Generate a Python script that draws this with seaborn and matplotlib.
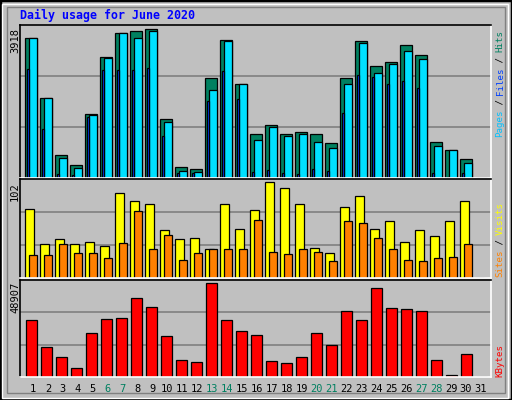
import matplotlib
matplotlib.use("Agg")
import matplotlib.pyplot as plt
import seaborn as sns
import pandas as pd
import numpy as np
from matplotlib.patches import Rectangle

days = list(range(1, 32))
day_labels = [str(d) for d in days]
weekend = [6, 7, 13, 14, 20, 21, 27, 28]

hits = [3679, 2114, 601, 336, 1689, 3175, 3812, 3865, 3918, 1557, 283, 230, 2618, 3626, 2485,
        1159, 1397, 1159, 1212, 1159, 920, 2618, 3600, 2936, 3042, 3493, 3228, 946, 734, 495, 0]
files = [3679, 2114, 522, 256, 1663, 3148, 3812, 3679, 3865, 1477, 177, 150, 2326, 3600, 2459,
         999, 1344, 1106, 1159, 946, 787, 2485, 3546, 2750, 2989, 3334, 3122, 840, 734, 389, 0]
pages = [2857, 1291, 97, 71, 1610, 2830, 2830, 2830, 2883, 1106, 124, 124, 2034, 2804, 2087,
         150, 203, 124, 97, 230, 177, 1716, 2697, 2644, 2485, 2538, 2379, 124, 35, 124, 0]
visits = [73, 36, 41, 36, 38, 34, 90, 82, 78, 51, 41, 42, 31, 79, 52, 72, 102, 96, 78, 32, 27,
          75, 87, 52, 61, 38, 51, 45, 61, 82, 0]
sites = [24, 24, 36, 26, 27, 21, 37, 71, 31, 46, 19, 27, 31, 31, 31, 62, 28, 25, 31, 28, 18,
         61, 58, 42, 31, 19, 18, 21, 22, 36, 0]
kbytes = [29631, 15708, 10353, 4463, 22670, 30167, 30702, 40877, 36593, 21063, 8747, 7676, 48907,
          29631, 23741, 21599, 8211, 7140, 10353, 22670, 16779, 34451, 29631, 46232, 36057, 35522,
          34094, 8747, 1250, 11960, 0]

BG = "#C0C0C0"
sns.set_theme(style="white")
plt.rcParams['font.family'] = ['DejaVu Sans Mono', 'DejaVu Sans']

W, H = 512, 400
fig = plt.figure(figsize=(W / 100, H / 100), dpi=100, facecolor=BG)

def px_ax(x0, y0, x1, y1):
    return fig.add_axes([x0 / W, 1 - y1 / H, (x1 - x0) / W, (y1 - y0) / H])

# outer frame
fig.patches.append(Rectangle((0, 0), 1, 1, transform=fig.transFigure, fill=False,
                             edgecolor="black", linewidth=2.5))
fig.patches.append(Rectangle((2 / W, 2 / H), 1 - 6 / W, 1 - 6 / H, transform=fig.transFigure,
                             fill=False, edgecolor="white", linewidth=1))
fig.patches.append(Rectangle((7 / W, 7 / H), 1 - 14 / W, 1 - 14 / H, transform=fig.transFigure,
                             fill=False, edgecolor="#808080", linewidth=1))

x0 = np.arange(31)
XL = (-0.87, 30.54)

def bars(ax, vals, off, width, color):
    df = pd.DataFrame({"x": x0 + off, "y": vals})
    sns.barplot(data=df, x="x", y="y", native_scale=True, width=width, color=color,
                saturation=1, edgecolor="black", linewidth=0.9, ax=ax)

def style(ax, top, frac):
    ax.set_facecolor(BG)
    ax.set_xlim(*XL)
    ax.set_ylim(0, top * frac)
    for g in (1 / 3, 2 / 3):
        ax.axhline(top * frac * g, color="#808080", lw=1.2, zorder=0)
    ax.set_xticks([]); ax.set_yticks([])
    ax.set_xlabel(""); ax.set_ylabel("")
    for s in ax.spines.values():
        s.set_color("white"); s.set_linewidth(1.2)
    ax.spines["left"].set_color("black"); ax.spines["top"].set_color("black")

ax1 = px_ax(20, 25, 491, 178)
bars(ax1, hits, -0.135, 0.77, "#008060")
bars(ax1, files, 0.0, 0.5, "#00E0FF")
bars(ax1, pages, -0.335, 0.17, "#0040FF")
style(ax1, 3918, 1.027)

ax2 = px_ax(20, 179, 491, 278)
bars(ax2, visits, -0.24, 0.56, "#FFFF00")
bars(ax2, sites, 0.0, 0.5, "#FF8000")
style(ax2, 102, 1.03)

ax3 = px_ax(20, 280, 491, 377)
bars(ax3, kbytes, -0.1, 0.7, "#FF0000")
style(ax3, 48907, 1.03)

fig.text(20 / W, 1 - 15 / H, "Daily usage for June 2020", color="#0000FF", fontsize=8.4,
         fontweight="bold", va="center", ha="left")

for y, t in ((28, "3918"), (182, "102"), (282, "48907")):
    fig.text(15 / W, 1 - y / H, t, rotation=90, fontsize=7.5, va="top", ha="center",
             color="black")

for d, lab in zip(days, day_labels):
    xpx = 33 + (d - 1) * 14.93
    fig.text(xpx / W, 1 - 389 / H, lab, fontsize=7.5, ha="center", va="center",
             color="#008060" if d in weekend else "black")

CH = 5.3
def vlabel(ybottom, pieces):
    y = ybottom
    for txt, col in pieces:
        fig.text(500 / W, 1 - y / H, txt, rotation=90, fontsize=6.6, ha="center", va="bottom",
                 color=col)
        y -= len(txt) * CH

vlabel(137, [("Pages", "#00C0FF"), (" / ", "black"), ("Files", "#0040FF"),
             (" / ", "black"), ("Hits", "#008060")])
vlabel(277, [("Sites", "#FF8000"), (" / ", "black"), ("Visits", "#FFFF00")])
vlabel(377, [("KBytes", "#FF0000")])

fig.savefig("out.png", dpi=100, facecolor=BG)
